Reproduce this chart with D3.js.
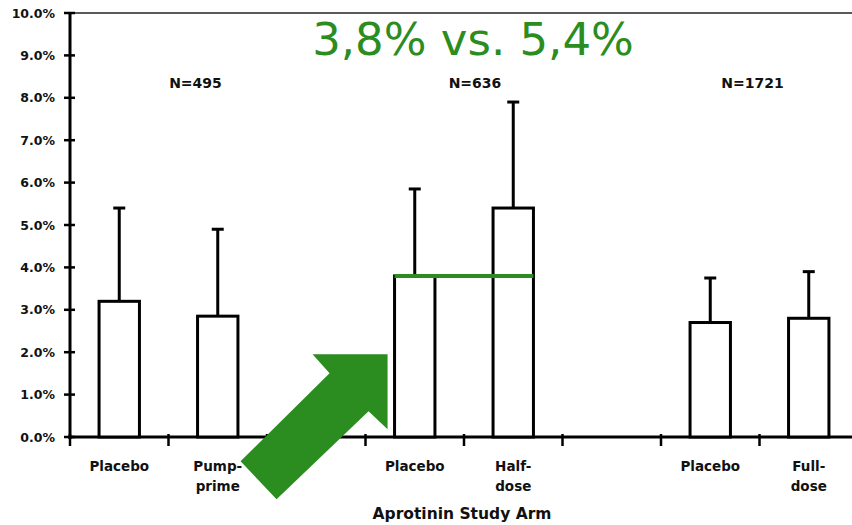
<!DOCTYPE html>
<html>
<head>
<meta charset="utf-8">
<script src="https://cdn.jsdelivr.net/npm/d3@7"></script>
<style>
    body { margin: 0; background: #fff; }
    svg { display: block; }
    text { font-family: "DejaVu Sans", sans-serif; font-weight: bold; fill: #111; }
</style>
</head>
<body>
<svg class="chart" width="852" height="525"></svg>
<script>

// slots along the x axis, empty ones are the gaps between studies
const categoryLabels = [["Placebo"], ["Pump-", "prime"], [], ["Placebo"], ["Half-", "dose"], [], ["Placebo"], ["Full-", "dose"]];
const rates = [3.2, 2.85, null, 3.8, 5.4, null, 2.7, 2.8];
const upperError = [5.4, 4.9, null, 5.85, 7.9, null, 3.75, 3.9];

const groupNames = ["N=495", "N=636", "N=1721"];
const groupSlots = [[0, 1], [3, 4], [6, 7]];
const groupShift = [27, 11, -7];   // labels are not quite centred in the scan

const yTicks = [0, 1, 2, 3, 4, 5, 6, 7, 8, 9, 10];
const highlight = {from: 3, to: 4, value: 3.8, text: "3,8% vs. 5,4%"};

const green = "#2b8c20";
const svg = d3.select("svg.chart");

const x = d3.scaleBand()
    .domain(d3.range(categoryLabels.length))
    .range([70, 858])
    .paddingInner(0.59)
    .paddingOuter(0.295);

const y = d3.scaleLinear()
    .domain([0, 10])
    .range([437, 13]);

const step = x.step();
const x0 = x.range()[0];

// top frame line
svg.append("line")
    .attr("x1", 65).attr("x2", 852)
    .attr("y1", y(10)).attr("y2", y(10))
    .style("stroke", "#222")
    .style("stroke-width", 1.4);

// y axis with crossing ticks
svg.append("line")
    .attr("x1", x0).attr("x2", x0)
    .attr("y1", y(10)).attr("y2", y(0) + 2)
    .style("stroke", "#000")
    .style("stroke-width", 3);

const yTickG = svg.selectAll("g.ytick")
    .data(yTicks)
    .enter()
    .append("g")
    .attr("class", "ytick")
    .attr("transform", d => `translate(${x0}, ${y(d)})`);

yTickG.append("line")
    .attr("x1", -6).attr("x2", 5)
    .style("stroke", "#000")
    .style("stroke-width", 2.5);

yTickG.append("text")
    .attr("x", -15)
    .attr("y", 4.5)
    .attr("text-anchor", "end")
    .style("font-size", "12.5px")
    .text(d => `${d.toFixed(1)}%`);

// x axis
svg.append("line")
    .attr("x1", x0 - 2).attr("x2", 852)
    .attr("y1", y(0)).attr("y2", y(0))
    .style("stroke", "#000")
    .style("stroke-width", 3);

svg.selectAll("line.xtick")
    .data(d3.range(categoryLabels.length + 1))
    .enter()
    .append("line")
    .attr("class", "xtick")
    .attr("x1", d => x0 + d * step)
    .attr("x2", d => x0 + d * step)
    .attr("y1", y(0) - 3)
    .attr("y2", y(0) + 9)
    .style("stroke", "#000")
    .style("stroke-width", 2.5);

// category labels (one or two lines)
const catLabels = svg.selectAll("text.cat")
    .data(categoryLabels)
    .enter()
    .append("text")
    .attr("class", "cat")
    .attr("text-anchor", "middle")
    .style("font-size", "13.5px")
    .attr("transform", (d, i) => `translate(${x(i) + x.bandwidth() / 2}, 471)`);

catLabels.selectAll("tspan")
    .data(d => d)
    .enter()
    .append("tspan")
    .attr("x", 0)
    .attr("y", (d, i) => i * 20)
    .text(d => d);

svg.append("text")
    .attr("x", 462)
    .attr("y", 519)
    .attr("text-anchor", "middle")
    .style("font-size", "15.5px")
    .text("Aprotinin Study Arm");

// bars with upper error whiskers
const barData = rates.map((r, i) => ({i: i, rate: r, upper: upperError[i]}))
    .filter(d => d.rate !== null);

svg.selectAll("line.err")
    .data(barData)
    .enter()
    .append("line")
    .attr("class", "err")
    .attr("x1", d => x(d.i) + x.bandwidth() / 2)
    .attr("x2", d => x(d.i) + x.bandwidth() / 2)
    .attr("y1", d => y(d.rate))
    .attr("y2", d => y(d.upper))
    .style("stroke", "#000")
    .style("stroke-width", 3);

svg.selectAll("line.cap")
    .data(barData)
    .enter()
    .append("line")
    .attr("class", "cap")
    .attr("x1", d => x(d.i) + x.bandwidth() / 2 - 6)
    .attr("x2", d => x(d.i) + x.bandwidth() / 2 + 6)
    .attr("y1", d => y(d.upper))
    .attr("y2", d => y(d.upper))
    .style("stroke", "#000")
    .style("stroke-width", 3);

svg.selectAll("rect.bar")
    .data(barData)
    .enter()
    .append("rect")
    .attr("class", "bar")
    .attr("x", d => x(d.i))
    .attr("y", d => y(d.rate))
    .attr("width", x.bandwidth())
    .attr("height", d => y(0) - y(d.rate))
    .style("fill", "#fff")
    .style("stroke", "#000")
    .style("stroke-width", 3);

// study size labels
svg.selectAll("text.group")
    .data(groupNames)
    .enter()
    .append("text")
    .attr("class", "group")
    .attr("x", (d, i) => {
        const [a, b] = groupSlots[i];
        return (x(a) + x(b) + x.bandwidth()) / 2 + groupShift[i];
    })
    .attr("y", 88)
    .attr("text-anchor", "middle")
    .style("font-size", "14px")
    .text(d => d);

// green annotation: comparison line, headline and arrow
svg.append("line")
    .attr("x1", x(highlight.from))
    .attr("x2", x(highlight.to) + x.bandwidth())
    .attr("y1", y(highlight.value))
    .attr("y2", y(highlight.value))
    .style("stroke", green)
    .style("stroke-width", 4);

svg.append("text")
    .attr("x", 473)
    .attr("y", 55)
    .attr("text-anchor", "middle")
    .style("font-size", "45px")
    .style("font-weight", "normal")
    .style("fill", green)
    .text(highlight.text);

// block arrow pointing at the placebo bar, shape relative to its tip
const tipX = x(highlight.from) - 7;
const tipY = y(1.95);
const arrowShape = [[0, 0], [-75, 0], [-58, 19], [-147, 107], [-111, 145], [-19, 57], [0, 75]];

svg.append("polygon")
    .attr("points", arrowShape.map(p => `${tipX + p[0]},${tipY + p[1]}`).join(" "))
    .style("fill", green);

</script>
</body>
</html>
